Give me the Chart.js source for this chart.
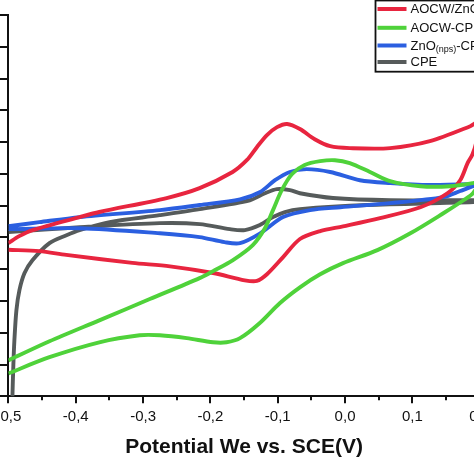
<!DOCTYPE html>
<html>
<head>
<meta charset="utf-8">
<script src="https://cdn.jsdelivr.net/npm/chart.js@4.4.1/dist/chart.umd.min.js"></script>
<style>
  html, body { margin: 0; padding: 0; width: 474px; height: 474px; overflow: hidden; background: #fff; }
  #wrap { position: absolute; left: -20px; top: 0; width: 524px; height: 474px; }
</style>
</head>
<body>
<div id="wrap"><canvas id="c" width="524" height="474" style="width:524px;height:474px"></canvas></div>
<script>
// ---- data (potential in V, current in axis-tick units) ----
const xTickValues = [-0.5, -0.4, -0.3, -0.2, -0.1, 0.0, 0.1, 0.2];
const seriesNames = ['AOCW/ZnO(nps)-CPE', 'AOCW-CPE', 'ZnO(nps)-CPE', 'CPE'];

const redV = [-0.5, -0.484, -0.464, -0.394, -0.365, -0.265, -0.216, -0.167, -0.146, -0.131, -0.116, -0.101, -0.086, -0.067, -0.045, -0.022, 0.007, 0.067, 0.126, 0.186, 0.2,
              0.195, 0.189, 0.182, 0.171, 0.152, 0.112, 0.052, -0.003, -0.037, -0.067, -0.092, -0.116, -0.131, -0.149, -0.196, -0.260, -0.316, -0.414, -0.454, -0.5];
const redI = [4.82, 5.04, 5.23, 5.64, 5.80, 6.24, 6.55, 7.06, 7.43, 7.84, 8.22, 8.47, 8.57, 8.41, 8.09, 7.87, 7.81, 7.81, 8.03, 8.50, 8.65,
              8.0, 7.6, 7.34, 6.80, 6.39, 5.95, 5.61, 5.35, 5.20, 4.95, 4.38, 3.84, 3.63, 3.65, 3.88, 4.09, 4.20, 4.45, 4.57, 4.61];

const greenV = [-0.5, -0.439, -0.365, -0.290, -0.216, -0.196, -0.167, -0.137, -0.119, -0.107, -0.094, -0.079, -0.060, -0.037, -0.015, 0.007, 0.037, 0.067, 0.112, 0.156, 0.190, 0.2,
                0.190, 0.176, 0.146, 0.097, 0.048, -0.003, -0.037, -0.067, -0.097, -0.127, -0.156, -0.176, -0.196, -0.235, -0.275, -0.305, -0.365, -0.439, -0.5];
const greenI = [1.13, 1.73, 2.39, 3.06, 3.72, 3.94, 4.28, 4.76, 5.29, 5.86, 6.49, 6.99, 7.28, 7.40, 7.43, 7.34, 7.06, 6.77, 6.61, 6.61, 6.71, 6.77,
                6.39, 6.17, 5.76, 5.13, 4.60, 4.19, 3.84, 3.43, 2.93, 2.30, 1.83, 1.70, 1.70, 1.83, 1.92, 1.92, 1.70, 1.23, 0.72];

const blueV = [-0.5, -0.454, -0.394, -0.275, -0.216, -0.156, -0.126, -0.104, -0.082, -0.057, -0.022, 0.022, 0.067, 0.126, 0.192, 0.2,
               0.171, 0.146, 0.067, -0.007, -0.052, -0.092, -0.126, -0.156, -0.179, -0.216, -0.275, -0.394, -0.5];
const blueI = [5.35, 5.48, 5.64, 5.86, 6.02, 6.20, 6.43, 6.80, 7.06, 7.15, 7.06, 6.80, 6.71, 6.65, 6.68, 6.70,
               6.46, 6.27, 6.08, 5.95, 5.86, 5.64, 5.13, 4.82, 4.85, 5.01, 5.13, 5.29, 5.26];

const greyV = [-0.4945, -0.494, -0.4926, -0.4911, -0.4881, -0.4836, -0.4762, -0.4643, -0.439, -0.4137, -0.3943, -0.3497, -0.2753, -0.2158, -0.1414, -0.119, -0.1012, -0.0818, -0.067, -0.0179, 0.067, 0.1905, 0.2,
               0.1905, 0.0327, -0.067, -0.0893, -0.107, -0.1265, -0.1488, -0.171, -0.2158, -0.2753, -0.394, -0.5];
const greyI = [-0.8, 0.0, 1.0, 1.76, 2.71, 3.34, 3.87, 4.28, 4.82, 5.07, 5.23, 5.48, 5.70, 5.89, 6.17, 6.39, 6.52, 6.49, 6.39, 6.24, 6.17, 6.17, 6.15,
               6.11, 6.02, 5.89, 5.80, 5.64, 5.39, 5.23, 5.26, 5.42, 5.45, 5.32, 5.17];

const colors = ['#e8253f', '#4fd23a', '#2b5fe0', '#565b5b'];
// --------------------------------------------------------------------------

const OFFSET = 20; // canvas starts 20px left of the window
function pts(xs, ys) { return xs.map((x, i) => ({ x: x, y: ys[i] })); }
function fmt(v) { if (Math.abs(v) < 1e-9) v = 0; return v.toFixed(1).replace('.', ','); }
const FONT = "'Liberation Sans', Arial, Helvetica, sans-serif";

const tickPlugin = {
  id: 'ticks',
  afterDraw(chart) {
    const ctx = chart.ctx, xs = chart.scales.x, ys = chart.scales.y;
    const bottom = chart.chartArea.bottom, left = chart.chartArea.left;
    ctx.save();
    ctx.strokeStyle = '#111';
    ctx.lineWidth = 2;
    for (let i = 0; i <= 14; i++) {
      const v = -0.5 + i * 0.05;
      const px = Math.round(xs.getPixelForValue(v));
      const len = (i % 2 === 0) ? 7 : 4;
      ctx.beginPath(); ctx.moveTo(px, bottom); ctx.lineTo(px, bottom + len); ctx.stroke();
    }
    for (let k = 0; k <= 12; k++) {
      const py = Math.round(ys.getPixelForValue(k));
      ctx.beginPath(); ctx.moveTo(left, py); ctx.lineTo(left - 9, py); ctx.stroke();
    }
    ctx.restore();
  }
};

const legendPlugin = {
  id: 'boxLegend',
  afterDraw(chart) {
    const ctx = chart.ctx;
    const bx = 375.5 + OFFSET, by = 0.5, bw = 200, bh = 71.2;
    ctx.save();
    ctx.fillStyle = '#fff';
    ctx.fillRect(bx, by, bw, bh);
    ctx.strokeStyle = '#111';
    ctx.lineWidth = 1.8;
    ctx.strokeRect(bx, by, bw, bh);
    const rows = [9, 27.8, 45.5, 62];
    ctx.textBaseline = 'middle';
    for (let i = 0; i < 4; i++) {
      const y = rows[i];
      ctx.strokeStyle = colors[i];
      ctx.lineWidth = 4;
      ctx.beginPath(); ctx.moveTo(377.5 + OFFSET, y); ctx.lineTo(406.5 + OFFSET, y); ctx.stroke();
      ctx.fillStyle = '#111';
      let x = 410.5 + OFFSET;
      const name = seriesNames[i];
      const parts = name.split('(nps)');
      ctx.font = '13px ' + FONT;
      ctx.fillText(parts[0], x, y + 0.5);
      x += ctx.measureText(parts[0]).width;
      if (parts.length > 1) {
        ctx.font = '9px ' + FONT;
        ctx.fillText('(nps)', x, y + 4.5);
        x += ctx.measureText('(nps)').width;
        ctx.font = '13px ' + FONT;
        ctx.fillText(parts[1], x, y + 0.5);
      }
    }
    ctx.restore();
  }
};

const order = [1, 0, 2, 3];
const data = {
  datasets: [
    { label: seriesNames[0], data: pts(redV, redI), borderColor: colors[0], order: order[0] },
    { label: seriesNames[1], data: pts(greenV, greenI), borderColor: colors[1], order: order[1] },
    { label: seriesNames[2], data: pts(blueV, blueI), borderColor: colors[2], order: order[2] },
    { label: seriesNames[3], data: pts(greyV, greyI), borderColor: colors[3], order: order[3] }
  ].map(d => Object.assign(d, { showLine: true, pointRadius: 0, borderWidth: 3.9, tension: 0.3, fill: false }))
};

new Chart(document.getElementById('c'), {
  type: 'scatter',
  data: data,
  options: {
    responsive: false,
    animation: false,
    devicePixelRatio: 1,
    layout: { padding: { left: 19.4, right: 24.3, top: 15, bottom: 0 } },
    plugins: { legend: { display: false }, tooltip: { enabled: false } },
    scales: {
      x: {
        type: 'linear', min: -0.5, max: 0.2,
        afterBuildTicks: s => { s.ticks = xTickValues.map(v => ({ value: v })); },
        ticks: { callback: v => fmt(v), color: '#111', font: { family: FONT, size: 15 }, padding: 12, maxRotation: 0, autoSkip: false },
        grid: { display: false, drawTicks: false },
        border: { display: true, color: '#111', width: 2 },
        title: { display: true, text: 'Potential We vs. SCE(V)', color: '#111', font: { family: FONT, size: 21, weight: 'bold' }, padding: { top: 0, bottom: 14 } },
        afterFit: s => { s.height = 77.7; }
      },
      y: {
        type: 'linear', min: 0, max: 12,
        ticks: { display: false, stepSize: 1 },
        grid: { display: false, drawTicks: false },
        border: { display: true, color: '#111', width: 2 },
        afterFit: s => { s.width = 9; }
      }
    }
  },
  plugins: [tickPlugin, legendPlugin]
});
</script>
</body>
</html>
